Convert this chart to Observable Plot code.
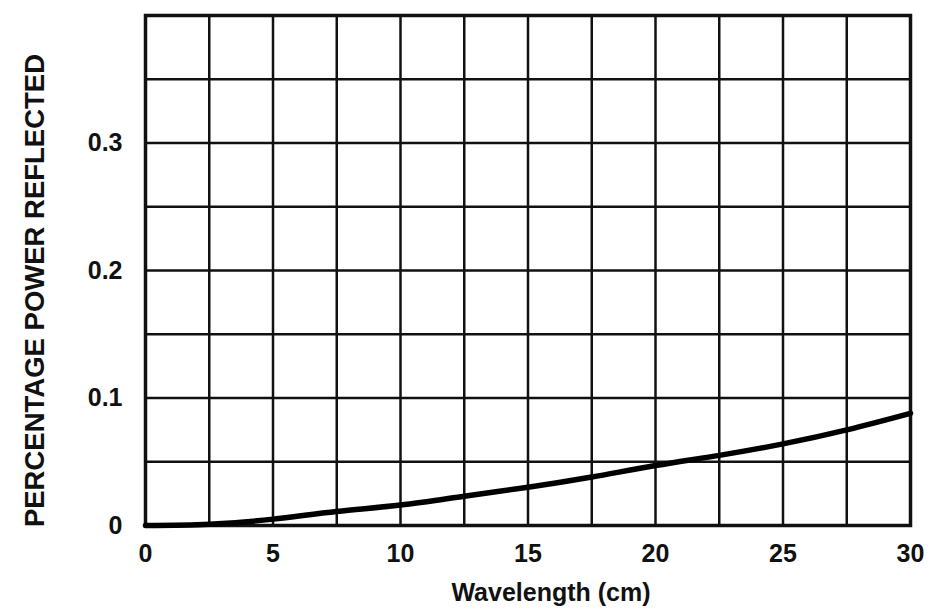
<!DOCTYPE html>
<html>
<head>
<meta charset="utf-8">
<script src="https://cdn.jsdelivr.net/npm/d3@7"></script>
<script src="https://cdn.jsdelivr.net/npm/@observablehq/plot@0.6"></script>
<style>
  html, body { margin: 0; padding: 0; background: #ffffff; }
  #chart svg { display: block; }
</style>
</head>
<body>
<div id="chart"></div>
<script>
// Data
const wavelength = [0, 2.5, 5, 7.5, 10, 12.5, 15, 17.5, 20, 22.5, 25, 27.5, 30];
const reflected  = [0, 0.001, 0.005, 0.011, 0.016, 0.023, 0.030, 0.038, 0.047, 0.055, 0.064, 0.075, 0.088];

const xTicks = [0, 5, 10, 15, 20, 25, 30];
const yTicks = [0, 0.1, 0.2, 0.3];
const xGrid = [0, 2.5, 5, 7.5, 10, 12.5, 15, 17.5, 20, 22.5, 25, 27.5, 30];
const yGrid = [0, 0.05, 0.1, 0.15, 0.2, 0.25, 0.3, 0.35, 0.4];

const xLabel = "Wavelength (cm)";
const yLabel = "PERCENTAGE POWER REFLECTED";

const data = wavelength.map((w, i) => ({w, r: reflected[i]}));

const chart = Plot.plot({
  width: 931,
  height: 613,
  marginLeft: 145,
  marginRight: 21,
  marginTop: 15,
  marginBottom: 88,
  style: {fontFamily: "'Liberation Sans', Arial, sans-serif", fontWeight: "bold", color: "#111", background: "#fff"},
  x: {domain: [0, 30]},
  y: {domain: [0, 0.4]},
  marks: [
    Plot.ruleX(xGrid, {stroke: "#111", strokeWidth: 2.5}),
    Plot.ruleY(yGrid, {stroke: "#111", strokeWidth: 2.5}),
    Plot.frame({stroke: "#111", strokeWidth: 3.5}),
    Plot.line(data, {x: "w", y: "r", stroke: "#000", strokeWidth: 5.5, curve: "natural"}),
    Plot.axisX({ticks: xTicks, tickSize: 0, tickPadding: 19, fontSize: 25, label: null, tickFormat: d => String(d)}),
    Plot.axisY({ticks: yTicks, tickSize: 0, tickPadding: 23, fontSize: 25, label: null, tickFormat: d => d === 0 ? "0" : String(d)}),
    Plot.text([xLabel], {frameAnchor: "bottom", textAnchor: "middle", dx: 23, dy: 75, fontSize: 25, fontWeight: "bold", fill: "#111"}),
    Plot.text([yLabel], {frameAnchor: "left", textAnchor: "middle", dx: -110, dy: 20, rotate: -90, fontSize: 27.5, fontWeight: "bold", fill: "#111"})
  ]
});
document.getElementById("chart").appendChild(chart);
</script>
</body>
</html>
